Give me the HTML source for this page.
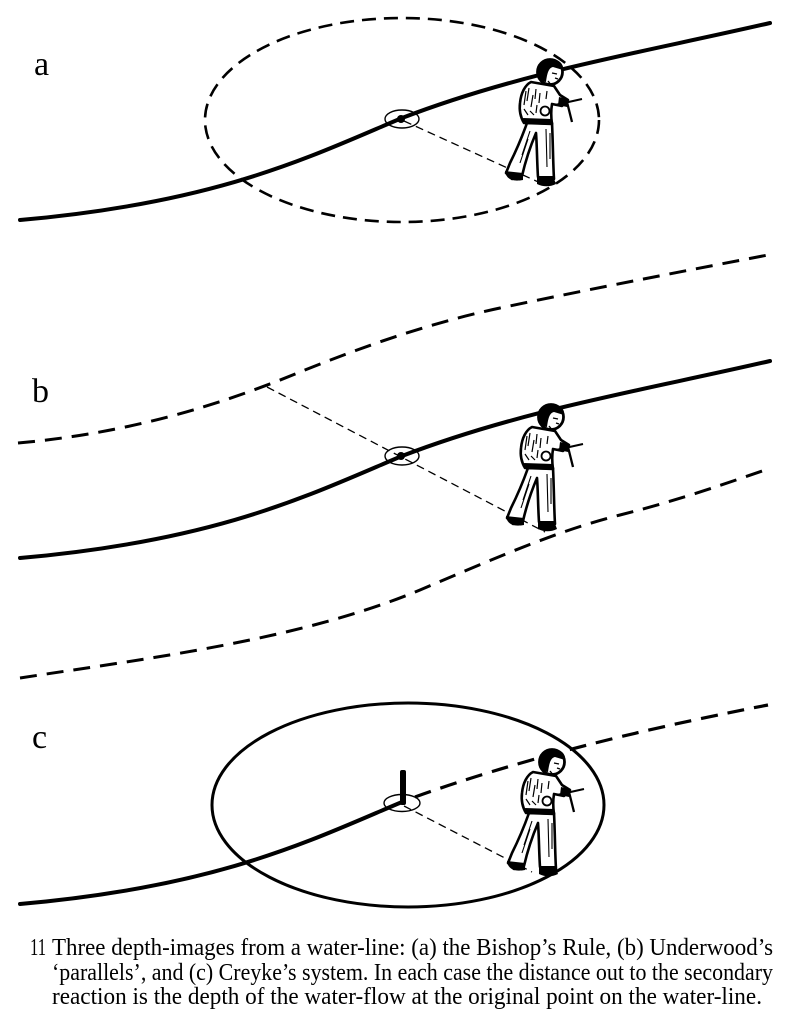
<!DOCTYPE html>
<html>
<head>
<meta charset="utf-8">
<style>
html,body{margin:0;padding:0;background:#fff;}
svg{display:block;}
</style>
</head>
<body>
<svg width="800" height="1022" viewBox="0 0 800 1022" xmlns="http://www.w3.org/2000/svg">
<defs>
<g id="man">
  <!-- legs -->
  <path d="M27,68 C22,82 16,96 10,108 L6,118 L12,124 L22,121 C25,108 30,92 36,78 C37,90 37,108 38,122 L54,124 C53,108 53,88 52,68 Z" fill="#fff" stroke="#000" stroke-width="2.6" stroke-linejoin="round"/>
  <path d="M30,76 L22,100 M46,74 L47,112 M28,84 L20,108 M50,78 L50,104" stroke="#000" stroke-width="1.1" fill="none"/>
  <!-- feet -->
  <path d="M5,116 C6,124 12,127 23,125 L23,118 Z" fill="#000"/>
  <path d="M37,121 L37,129 C43,132 50,132 56,129 L53,121 Z" fill="#000"/>
  <!-- jacket -->
  <path d="M31,27 C25,30 21,38 20,48 C19,56 21,63 24,68 L52,69 C51,62 51,55 52,49 L62,51 L68,45 L60,40 L54,31 Z" fill="#fff" stroke="#000" stroke-width="2.6" stroke-linejoin="round"/>
  <path d="M26,36 L24,50 M29,33 L27,46 M33,40 L31,52 M36,34 L35,44 M24,54 L28,60 M40,38 L39,48 M47,36 L46,44 M30,56 L34,60 M37,50 L36,58" stroke="#000" stroke-width="1.2" fill="none"/>
  <!-- belt -->
  <path d="M23,63 L52,64 L52,70 L24,69 Z" fill="#000"/>
  <!-- head -->
  <circle cx="50" cy="17" r="12.5" fill="#fff" stroke="#000" stroke-width="2.8"/>
  <path d="M38,19 C37,8 45,3 53,4 C60,5 64,10 63,15 L53,12 C48,13 47,20 46,27 L40,26 Z" fill="#000"/>
  <path d="M52,18 L57,19 M55,23 L58,24 M48,26 L52,31" stroke="#000" stroke-width="1.4" fill="none"/>
  <!-- fist -->
  <circle cx="45" cy="56" r="4.5" fill="#fff" stroke="#000" stroke-width="1.8"/>
  <!-- rod -->
  <line x1="55" y1="50" x2="82" y2="44" stroke="#000" stroke-width="2"/>
  <line x1="67" y1="47" x2="72" y2="67" stroke="#000" stroke-width="2.3"/>
  <!-- hand -->
  <path d="M59,42 L68,44 L67,52 L58,50 Z" fill="#000"/>
</g>
</defs>

<g font-family="'Liberation Serif', serif" fill="#000">
  <text x="34" y="75" font-size="34">a</text>
  <text x="32" y="402" font-size="34">b</text>
  <text x="32" y="748" font-size="34">c</text>
</g>

<!-- ===== Panel a ===== -->
<ellipse cx="402" cy="120" rx="197" ry="102" fill="none" stroke="#000" stroke-width="2.6" stroke-dasharray="14 8"/>
<path d="M20,220 C220,202.5 312,155.8 402,118 C522,72 640,53 770,23" fill="none" stroke="#000" stroke-width="4" stroke-linecap="round"/>
<line x1="404" y1="121" x2="545" y2="185" stroke="#000" stroke-width="1.3" stroke-dasharray="8 5"/>
<ellipse cx="402" cy="119" rx="17" ry="9" fill="none" stroke="#000" stroke-width="1.4"/>
<circle cx="401" cy="119" r="4" fill="#000"/>
<use href="#man" transform="translate(500,55)"/>

<!-- ===== Panel b ===== -->
<path d="M18,443 C130,433 220,405 300,372 C350,352 420,325 500,308 C600,287 700,268 768,255" fill="none" stroke="#000" stroke-width="3" stroke-dasharray="17 10"/>
<path d="M20,678 C150,658 300,640 420,590 C500,556 560,530 620,515 C680,500 730,482 768,469" fill="none" stroke="#000" stroke-width="3" stroke-dasharray="17 10"/>
<path d="M20,558 C220,540.5 312,493.8 402,456 C522,410 640,391 770,361" fill="none" stroke="#000" stroke-width="4" stroke-linecap="round"/>
<line x1="267" y1="387" x2="545" y2="532" stroke="#000" stroke-width="1.3" stroke-dasharray="8 5"/>
<ellipse cx="402" cy="456" rx="17" ry="9" fill="none" stroke="#000" stroke-width="1.4"/>
<circle cx="401" cy="456" r="4" fill="#000"/>
<use href="#man" transform="translate(501,400)"/>

<!-- ===== Panel c ===== -->
<ellipse cx="408" cy="805" rx="196" ry="102" fill="none" stroke="#000" stroke-width="3"/>
<path d="M20,904 C220,886.5 312,839.8 402,802" fill="none" stroke="#000" stroke-width="4" stroke-linecap="round"/>
<path d="M415,797 Q560,745 768,705" fill="none" stroke="#000" stroke-width="3.2" stroke-dasharray="17 10"/>
<line x1="404" y1="806" x2="532" y2="872" stroke="#000" stroke-width="1.3" stroke-dasharray="8 5"/>
<ellipse cx="402" cy="803" rx="18" ry="8.5" fill="none" stroke="#000" stroke-width="1.4"/>
<rect x="400" y="770" width="6" height="35" rx="2" fill="#000"/>
<use href="#man" transform="translate(502,745)"/>

<!-- ===== Caption ===== -->
<g font-family="'Liberation Serif', serif" font-size="24" fill="#000">
  <text x="30" y="955" textLength="16" lengthAdjust="spacingAndGlyphs">11</text>
  <text x="52" y="955" textLength="721" lengthAdjust="spacingAndGlyphs">Three depth-images from a water-line: (a) the Bishop’s Rule, (b) Underwood’s</text>
  <text x="52" y="980" textLength="721" lengthAdjust="spacingAndGlyphs">‘parallels’, and (c) Creyke’s system. In each case the distance out to the secondary</text>
  <text x="52" y="1004" textLength="710" lengthAdjust="spacingAndGlyphs">reaction is the depth of the water-flow at the original point on the water-line.</text>
</g>
</svg>
</body>
</html>
